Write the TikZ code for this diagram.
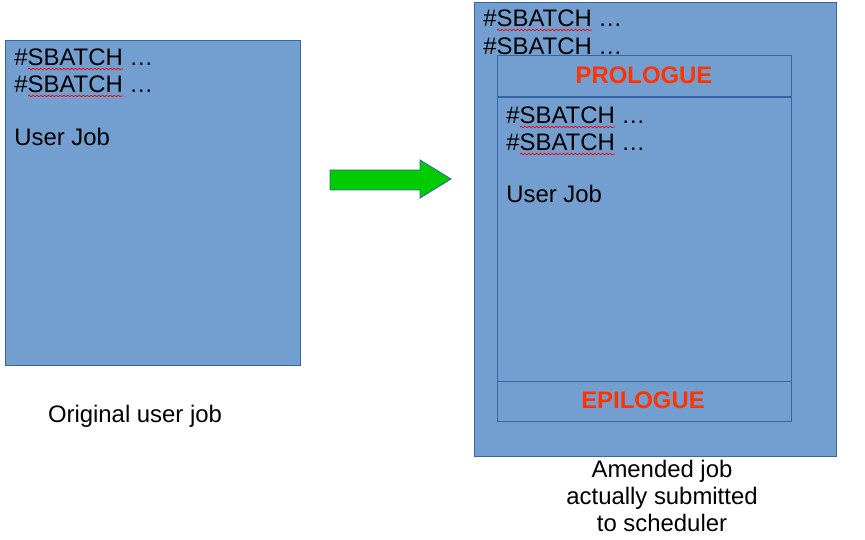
\documentclass[tikz,border=0pt]{standalone}
\usepackage{fontspec}
\setmainfont{Liberation Sans}
\usepackage{tikz}
\usetikzlibrary{positioning, calc, decorations.pathmorphing}

\definecolor{jobblue}{HTML}{729FCF}
\definecolor{jobedge}{HTML}{3465A4}
\definecolor{arrowgreen}{HTML}{00CC00}
\definecolor{hookred}{HTML}{FF3300}

\begin{document}
\begin{tikzpicture}[
  x=0.02cm, y=-0.02cm,
  jobbox/.style={draw=jobedge, fill=jobblue, line width=0.6pt},
  line/.style={anchor=base west, inner sep=0pt, font=\fontsize{13.6}{16}\selectfont},
  hook/.style={anchor=base, inner sep=0pt, text=hookred, font=\fontsize{13.6}{16}\selectfont\bfseries},
  caption/.style={align=center, inner sep=0pt, font=\fontsize{13.6}{15.5}\selectfont},
  spell/.style={draw=red, line width=0.4pt, decorate, decoration={snake, amplitude=0.45pt, segment length=2.2pt}}
]
  \useasboundingbox (0,0) rectangle (865,540);

  % original job
  \node[jobbox, minimum width=295*0.02cm, minimum height=325*0.02cm, anchor=north west] (orig) at (5,40) {};
  \node[line] (o1) at (14,66) {\#SBATCH …};
  \node[line] (o2) at (14,93) {\#SBATCH …};
  \node[line] (o3) at (14,146) {User Job};
  \draw[spell] (28,69) -- (123,69);
  \draw[spell] (28,96) -- (123,96);
  \node[caption] (origcap) at (135,416) {Original user job};

  % amended job
  \node[jobbox, minimum width=362*0.02cm, minimum height=454*0.02cm, anchor=north west] (amend) at (474,2) {};
  \node[line] (a1) at (483,27) {\#SBATCH …};
  \node[line] (a2) at (483,55) {\#SBATCH …};
  \draw[spell] (497,30) -- (592,30);
  \node[jobbox, minimum width=294*0.02cm, minimum height=366*0.02cm, anchor=north west] (inner) at (497,55) {};
  \draw[jobedge, line width=0.6pt] ($(inner.north west)+(0,42)$) coordinate (pw) -- (pw -| inner.east);
  \draw[jobedge, line width=0.6pt] ($(inner.south west)+(0,-41)$) coordinate (ew) -- (ew -| inner.east);
  \node[hook] (pro) at (644,84) {PROLOGUE};
  \node[hook] (epi) at (643,408) {EPILOGUE};
  \node[line] (i1) at (506,124) {\#SBATCH …};
  \node[line] (i2) at (506,151) {\#SBATCH …};
  \node[line] (i3) at (506,203) {User Job};
  \draw[spell] (520,127) -- (615,127);
  \draw[spell] (520,154) -- (615,154);
  \node[caption] (amendcap) at (662,496) {Amended job\\actually submitted\\to scheduler};

  % block arrow
  \coordinate (tail) at (330,180);
  \coordinate (tip) at (451,179);
  \draw[draw=jobedge, fill=arrowgreen, line width=0.5pt]
    (tail) ++(0,-10) -- (420,170) -- (420,160) -- (tip) -- (420,198) -- (420,190) -- (330,190) -- cycle;
\end{tikzpicture}
\end{document}
